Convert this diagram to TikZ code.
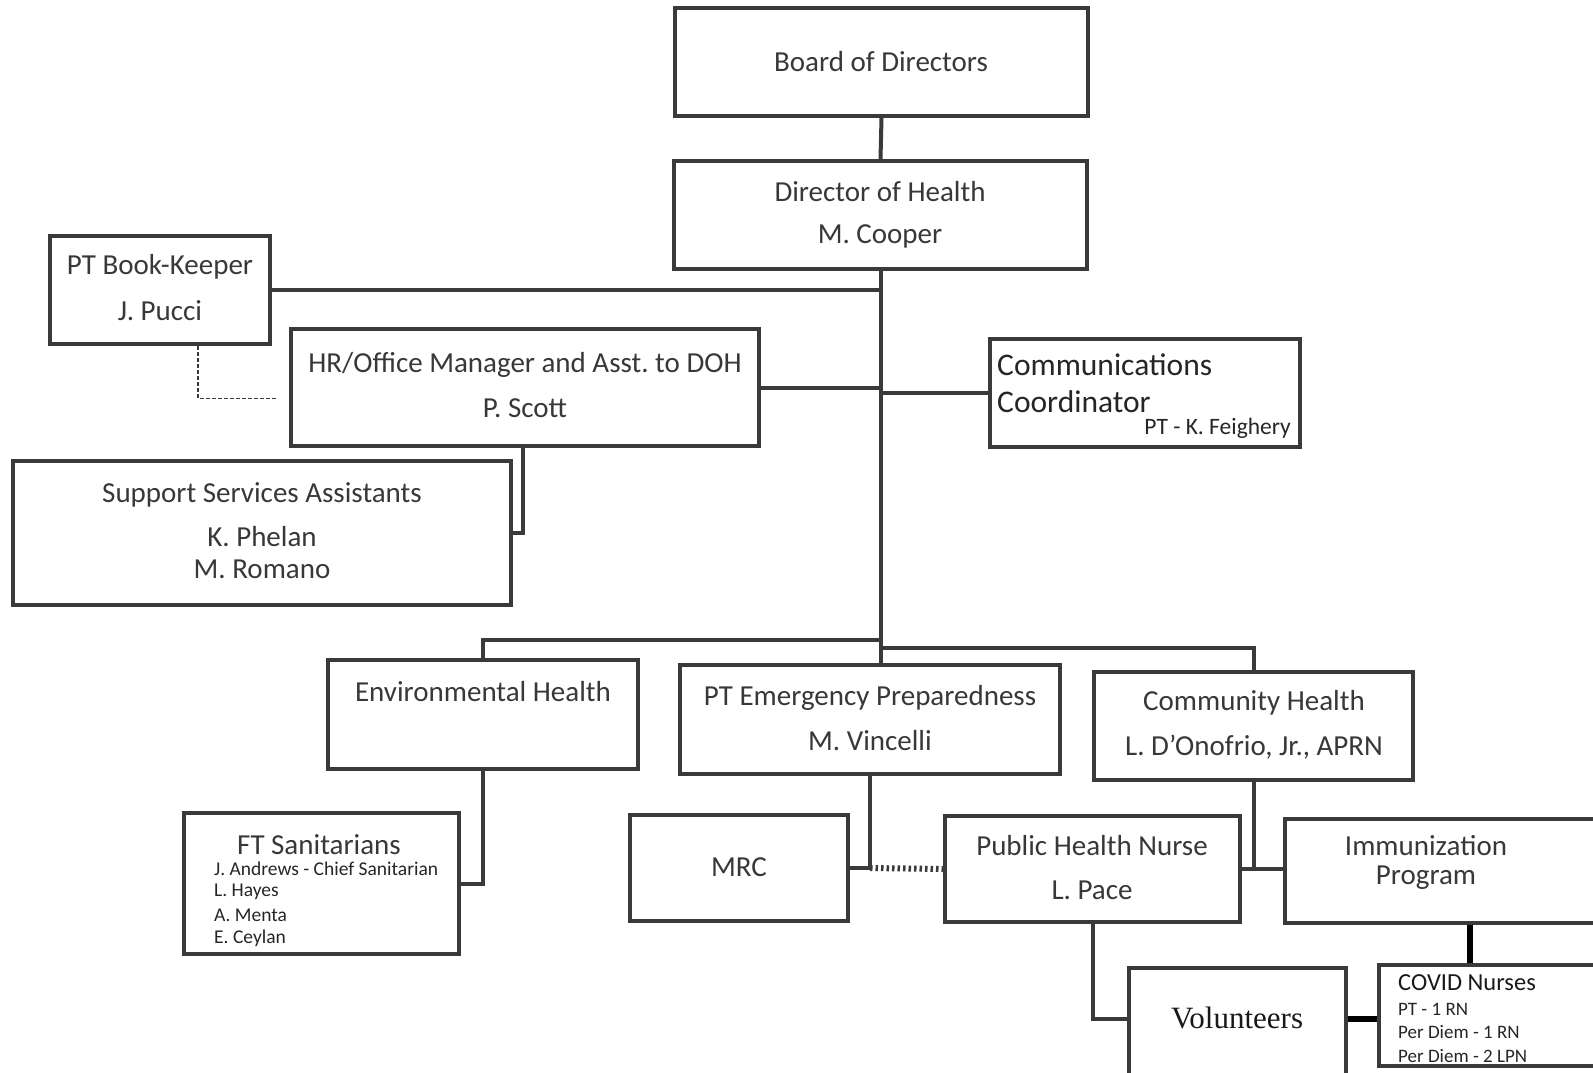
\documentclass[tikz,border=0pt]{standalone}
\usepackage{fontspec}
\setmainfont{Carlito}
\newfontfamily\timesf{Liberation Serif}
\frenchspacing
\definecolor{linec}{HTML}{3A3A3A}
\definecolor{txtc}{HTML}{383838}
\tikzset{
  box/.style={draw=linec, line width=4pt, rectangle, inner sep=0pt},
  conn/.style={draw=linec, line width=4pt},
  heavy/.style={draw=black, line width=6pt},
  txt/.style={text=txtc, inner sep=0pt, font=\fontsize{29}{31}\selectfont},
  small/.style={text=black!85, inner sep=0pt, font=\fontsize{19.5}{21}\selectfont, anchor=west},
}
\begin{document}
\begin{tikzpicture}[x=1pt,y=-1pt]
\useasboundingbox (0,0) rectangle (1593,1072);
\clip (0,0) rectangle (1593,1072);
\fill[white] (0,0) rectangle (1593,1072);

% boxes
\node[box, minimum width=413, minimum height=108] (board) at (881.5,62) {};
\node[box, minimum width=413, minimum height=108] (director) at (880.5,215) {};
\node[box, minimum width=220, minimum height=108] (bk) at (160,290) {};
\node[box, minimum width=468, minimum height=117] (hr) at (525,387.5) {};
\node[box, minimum width=310, minimum height=108] (comm) at (1145,393) {};
\node[box, minimum width=498, minimum height=144] (support) at (262,533) {};
\node[box, minimum width=310, minimum height=109] (env) at (483,714.5) {};
\node[box, minimum width=380, minimum height=109] (emerg) at (870,719.5) {};
\node[box, minimum width=319, minimum height=108] (comh) at (1253.5,726) {};
\node[box, minimum width=275, minimum height=141] (ft) at (321.5,883.5) {};
\node[box, minimum width=218, minimum height=106] (mrc) at (739,868) {};
\node[box, minimum width=295, minimum height=106] (phn) at (1092.5,869) {};
\node[box, minimum width=325, minimum height=104] (immun) at (1447.5,871) {};
\node[box, minimum width=231, minimum height=101] (covid) at (1494.5,1015.5) {};
\node[box, minimum width=217, minimum height=110] (vol) at (1237.5,1023) {};

% texts
\node[txt] (t-board) at (881,62) {Board of Directors};
\node[txt] (t-dir1) at (880,192) {Director of Health};
\node[txt] (t-dir2) at (880,236) {M. Cooper};
\node[txt] (t-bk1) at (160,267) {PT Book-Keeper};
\node[txt] (t-bk2) at (160,311) {J. Pucci};
\node[txt] (t-hr1) at (525,365) {HR/Office Manager and Asst. to DOH};
\node[txt] (t-hr2) at (525,408) {P. Scott};
\node[txt, anchor=west, font=\fontsize{31.5}{33}\selectfont, text=black!85] (t-cc1) at (997,365) {Communications};
\node[txt, anchor=west, font=\fontsize{31.5}{33}\selectfont, text=black!85] (t-cc2) at (997,402) {Coordinator};
\node[txt, anchor=east, font=\fontsize{23.5}{25}\selectfont, text=black!85] (t-cc3) at (1291,428) {PT - K. Feighery};
\node[txt] (t-ss1) at (262,495) {Support Services Assistants};
\node[txt] (t-ss2) at (262,537) {K. Phelan};
\node[txt] (t-ss3) at (262,569) {M. Romano};
\node[txt] (t-env) at (483,692) {Environmental Health};
\node[txt] (t-em1) at (870,698) {PT Emergency Preparedness};
\node[txt] (t-em2) at (870,741) {M. Vincelli};
\node[txt] (t-ch1) at (1254,703) {Community Health};
\node[txt] (t-ch2) at (1254,747) {L. D’Onofrio, Jr., APRN};
\node[txt] (t-ft) at (319,845) {FT Sanitarians};
\node[small] (t-ft1) at (214,869) {J. Andrews - Chief Sanitarian};
\node[small] (t-ft2) at (214,892) {L. Hayes};
\node[small] (t-ft3) at (214,915) {A. Menta};
\node[small] (t-ft4) at (214,938) {E. Ceylan};
\node[txt] (t-mrc) at (739,867) {MRC};
\node[txt] (t-phn1) at (1092,846) {Public Health Nurse};
\node[txt] (t-phn2) at (1092,890) {L. Pace};
\node[txt] (t-im1) at (1426,846) {Immunization};
\node[txt] (t-im2) at (1426,878) {Program};
\node[txt, anchor=west, font=\fontsize{24.5}{26}\selectfont, text=black!90] (t-cv) at (1398,983) {COVID Nurses};
\node[small, font=\fontsize{19}{21}\selectfont] (t-cv1) at (1398,1009) {PT - 1 RN};
\node[small, font=\fontsize{19}{21}\selectfont] (t-cv2) at (1398,1032) {Per Diem - 1 RN};
\node[small, font=\fontsize{19}{21}\selectfont] (t-cv3) at (1398,1056) {Per Diem - 2 LPN};
\node[txt, font=\timesf\fontsize{31}{33}\selectfont, text=black!90] (t-vol) at (1237,1018) {Volunteers};

% connectors
\draw[conn] (board.south) -- (director.north);
\draw[conn] (director.south) -- (director.south |- emerg.north);
\draw[conn] (bk.east) -- (bk.east -| director.south);
\draw[conn] (hr.east) -- (hr.east -| director.south);
\draw[conn] (comm.west) -- (comm.west -| director.south);
\draw[linec, line width=1.3pt, dash pattern=on 4pt off 2pt] ([xshift=38pt]bk.south) |- ([xshift=-12pt,yshift=-11pt]hr.west);
\draw[conn] ([xshift=-2pt]hr.south) |- (support.east);
\draw[conn] (director.south |- 0,640) -| (env.north);
\draw[conn] (director.south |- 0,648) -| (comh.north);
\draw[conn] (env.south) |- (ft.east);
\draw[conn] (emerg.south) |- (mrc.east);
\draw[linec, line width=6pt, dash pattern=on 2.5pt off 3pt] (mrc.east -| emerg.south) -- (phn.west);
\draw[conn] (comh.south) -- (comh.south |- phn.east);
\draw[conn] (phn.east) -- (phn.east -| immun.west);
\draw[heavy] ([xshift=22.5pt]immun.south) -- ([xshift=22.5pt]immun.south |- covid.north);
\draw[conn] (phn.south) |- ([yshift=4pt]vol.west);
\draw[heavy] ([yshift=4pt]vol.east) -- ([yshift=4pt]vol.east -| covid.west);
\end{tikzpicture}
\end{document}
